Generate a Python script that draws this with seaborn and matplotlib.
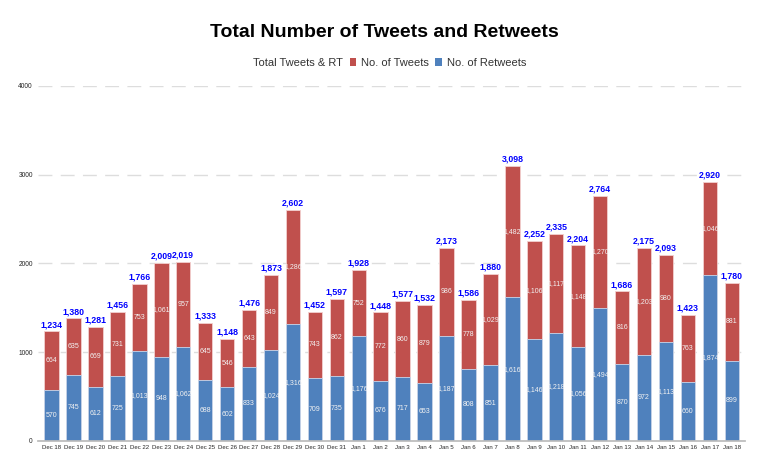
import pandas as pd
import matplotlib.pyplot as plt
import seaborn as sns
from matplotlib.patches import Patch

sns.set_theme(style="white")
plt.rcParams["font.family"] = ["Liberation Sans", "DejaVu Sans"]

dates = ["Dec 18", "Dec 19", "Dec 20", "Dec 21", "Dec 22", "Dec 23", "Dec 24", "Dec 25",
         "Dec 26", "Dec 27", "Dec 28", "Dec 29", "Dec 30", "Dec 31", "Jan 1", "Jan 2",
         "Jan 3", "Jan 4", "Jan 5", "Jan 6", "Jan 7", "Jan 8", "Jan 9", "Jan 10",
         "Jan 11", "Jan 12", "Jan 13", "Jan 14", "Jan 15", "Jan 16", "Jan 17", "Jan 18"]
retweets = [570, 745, 612, 725, 1013, 948, 1062, 688, 602, 833, 1024, 1316, 709, 735, 1176, 676,
            717, 653, 1187, 808, 851, 1616, 1146, 1218, 1056, 1494, 870, 972, 1113, 660, 1874, 899]
tweets = [664, 635, 669, 731, 753, 1061, 957, 645, 546, 643, 849, 1286, 743, 862, 752, 772,
          860, 879, 986, 778, 1029, 1482, 1106, 1117, 1148, 1270, 816, 1203, 980, 763, 1046, 881]

df = pd.DataFrame({"date": dates, "retweets": retweets, "tweets": tweets})
df["total"] = df["retweets"] + df["tweets"]

RED = "#C0504D"
BLUE = "#4F81BD"

fig = plt.figure(figsize=(7.68, 4.75), dpi=100)
ax = fig.add_axes([0.05, 0.072, 0.92, 0.747])

# red bar drawn full height, blue retweets on top of it -> stacked look
sns.barplot(data=df, x="date", y="total", color=RED, saturation=1, width=0.66, ax=ax,
            edgecolor="#f3d0cf", linewidth=0.6)
sns.barplot(data=df, x="date", y="retweets", color=BLUE, saturation=1, width=0.66, ax=ax,
            edgecolor="#c9d8ec", linewidth=0.6)

for i, row in df.iterrows():
    ax.text(i, row["retweets"] / 2, f"{row['retweets']:,}", ha="center", va="center",
            fontsize=5, color="#f2f2f2")
    ax.text(i, row["retweets"] + row["tweets"] / 2, f"{row['tweets']:,}", ha="center",
            va="center", fontsize=5, color="#f2f2f2")
    ax.text(i, row["total"] + 25, f"{row['total']:,}", ha="center", va="bottom",
            fontsize=6.3, color="#0000ff", fontweight="bold")

ax.set_ylim(0, 4000)
ax.set_xlim(-0.6, len(df) - 0.4)
ax.set_yticks([0, 1000, 2000, 3000, 4000])
ax.set_yticklabels(["0", "1000", "2000", "3000", "4000"], fontsize=4.8)
ax.tick_params(axis="x", labelsize=4.3, length=0, pad=3)
ax.tick_params(axis="y", length=0, pad=4)
ax.set_xlabel("")
ax.set_ylabel("")
ax.yaxis.grid(True, color="#dddddd", linestyle=(0, (10, 6)), linewidth=1)
ax.set_axisbelow(True)
for s in ["top", "right", "left"]:
    ax.spines[s].set_visible(False)
ax.spines["bottom"].set_color("#bbbbbb")

fig.text(0.5, 0.932, "Total Number of Tweets and Retweets", ha="center", va="center",
         fontsize=14, fontweight="heavy", color="black")

handles = [Patch(facecolor="none", edgecolor="none"),
           Patch(facecolor=RED, edgecolor="none"),
           Patch(facecolor=BLUE, edgecolor="none")]
labels = ["Total Tweets & RT", "No. of Tweets", "No. of Retweets"]
fig.legend(handles, labels, loc="center", bbox_to_anchor=(0.5, 0.868), ncol=3,
           frameon=False, handlelength=0.6, handleheight=0.7,
           handletextpad=0.4, columnspacing=0.6, labelcolor="#333333",
           prop={"size": 8})

fig.savefig("out.png", dpi=100)
